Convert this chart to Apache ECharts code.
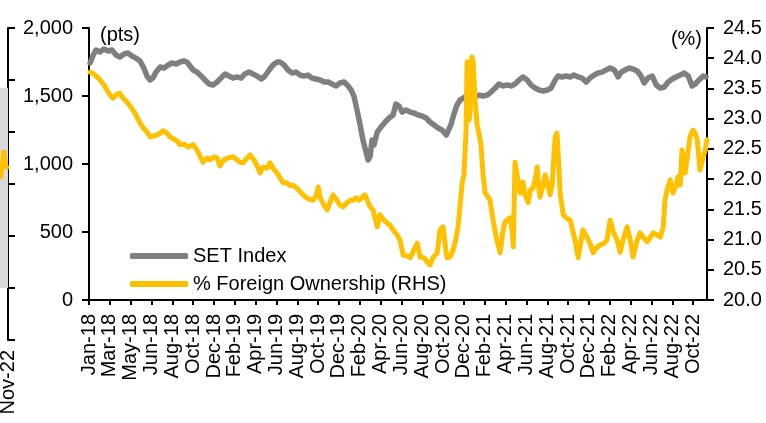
<!DOCTYPE html>
<html>
<head>
    <meta charset="utf-8">
    <title>SET Index vs Foreign Ownership</title>
    <script src="https://cdn.jsdelivr.net/npm/echarts@6/dist/echarts.min.js"></script>
    <style>
        html, body { margin: 0; padding: 0; background: #fff; }
    </style>
</head>
<body>
    <div id="main" style="width: 766px;height:423px;"></div>
    <script type="text/javascript">
        // x values are days counted from 1 Jan 2018
        var xTickLabels = ['Jan-18', 'Mar-18', 'May-18', 'Jun-18', 'Aug-18', 'Oct-18', 'Dec-18', 'Feb-19', 'Apr-19', 'Jun-19',
            'Aug-19', 'Oct-19', 'Dec-19', 'Feb-20', 'Apr-20', 'Jun-20', 'Aug-20', 'Oct-20', 'Dec-20', 'Feb-21',
            'Apr-21', 'Jun-21', 'Aug-21', 'Oct-21', 'Dec-21', 'Feb-22', 'Apr-22', 'Jun-22', 'Aug-22', 'Oct-22'];
        var leftTicks = [0, 500, 1000, 1500, 2000];
        var rightTicks = [20.0, 20.5, 21.0, 21.5, 22.0, 22.5, 23.0, 23.5, 24.0, 24.5];

        // SET Index (pts)
        var setIndex = [
            [3, 1743], [12, 1801], [20, 1838], [32, 1824], [43, 1846], [55, 1831], [66, 1838], [78, 1801], [89, 1787], [101, 1809],
            [112, 1816], [124, 1794], [135, 1779], [147, 1757], [158, 1706], [167, 1647], [176, 1618], [184, 1632], [193, 1676], [205, 1713],
            [216, 1706], [228, 1728], [239, 1743], [251, 1735], [262, 1750], [274, 1757], [282, 1750], [291, 1721], [300, 1691], [311, 1676],
            [323, 1647], [334, 1618], [346, 1588], [357, 1581], [369, 1603], [380, 1632], [392, 1662], [403, 1647], [415, 1632], [426, 1640],
            [438, 1632], [449, 1662], [461, 1676], [472, 1662], [484, 1647], [496, 1625], [507, 1647], [519, 1691], [530, 1728], [542, 1750],
            [550, 1750], [562, 1728], [573, 1691], [585, 1669], [596, 1676], [608, 1654], [619, 1647], [631, 1654], [642, 1632], [654, 1625],
            [666, 1618], [677, 1603], [689, 1603], [700, 1588], [712, 1574], [723, 1596], [735, 1603], [746, 1574], [755, 1544], [763, 1500],
            [772, 1397], [781, 1287], [789, 1176], [798, 1088], [804, 1029], [810, 1059], [815, 1176], [821, 1140], [830, 1235], [841, 1272],
            [853, 1309], [864, 1338], [876, 1360], [884, 1441], [893, 1426], [902, 1382], [913, 1397], [925, 1382], [936, 1375], [948, 1360],
            [959, 1353], [971, 1338], [982, 1309], [994, 1287], [1005, 1265], [1017, 1250], [1029, 1213], [1034, 1199], [1043, 1294], [1052, 1375],
            [1060, 1434], [1069, 1471], [1078, 1485], [1089, 1500], [1101, 1478], [1112, 1493], [1124, 1507], [1135, 1500], [1147, 1507], [1158, 1529],
            [1170, 1559], [1181, 1588], [1193, 1574], [1204, 1581], [1216, 1574], [1227, 1588], [1239, 1618], [1250, 1640], [1262, 1618], [1273, 1581],
            [1285, 1559], [1296, 1544], [1308, 1537], [1320, 1544], [1331, 1559], [1343, 1618], [1351, 1647], [1363, 1640], [1374, 1647], [1386, 1640],
            [1397, 1654], [1409, 1640], [1420, 1632], [1432, 1603], [1443, 1632], [1455, 1654], [1466, 1669], [1478, 1676], [1489, 1691], [1501, 1706],
            [1513, 1691], [1524, 1640], [1533, 1676], [1544, 1691], [1556, 1706], [1567, 1698], [1579, 1684], [1590, 1647], [1599, 1596], [1610, 1632],
            [1622, 1647], [1634, 1581], [1645, 1559], [1657, 1566], [1668, 1603], [1680, 1625], [1691, 1640], [1703, 1654], [1714, 1669], [1726, 1647],
            [1737, 1574], [1746, 1588], [1757, 1618], [1769, 1647], [1777, 1640]
        ];

        // % Foreign Ownership (RHS)
        var foreignOwnership = [
            [3, 23.77], [14, 23.74], [23, 23.69], [32, 23.64], [43, 23.56], [52, 23.47], [61, 23.39], [69, 23.34], [81, 23.41], [89, 23.42],
            [98, 23.34], [109, 23.28], [118, 23.21], [127, 23.14], [138, 23.03], [147, 22.93], [156, 22.85], [167, 22.78], [176, 22.70], [184, 22.71],
            [196, 22.73], [205, 22.76], [213, 22.80], [225, 22.76], [233, 22.70], [245, 22.66], [254, 22.63], [262, 22.57], [274, 22.58], [285, 22.53],
            [300, 22.57], [311, 22.48], [320, 22.38], [328, 22.28], [340, 22.35], [349, 22.32], [360, 22.37], [369, 22.35], [377, 22.22], [389, 22.32],
            [400, 22.35], [415, 22.37], [426, 22.32], [435, 22.28], [444, 22.27], [455, 22.35], [464, 22.40], [475, 22.32], [484, 22.22], [493, 22.10],
            [501, 22.20], [513, 22.18], [521, 22.27], [530, 22.18], [542, 22.10], [550, 22.02], [559, 21.94], [570, 21.94], [579, 21.89], [588, 21.90],
            [599, 21.85], [608, 21.79], [617, 21.74], [625, 21.70], [634, 21.67], [645, 21.65], [654, 21.72], [660, 21.87], [666, 21.69], [677, 21.57],
            [686, 21.49], [694, 21.61], [703, 21.74], [714, 21.65], [723, 21.57], [732, 21.54], [743, 21.61], [752, 21.65], [761, 21.65], [769, 21.69],
            [778, 21.65], [787, 21.70], [795, 21.74], [804, 21.61], [810, 21.54], [818, 21.49], [824, 21.36], [830, 21.21], [838, 21.41], [850, 21.32],
            [859, 21.27], [867, 21.24], [876, 21.16], [887, 21.08], [896, 20.99], [905, 20.74], [916, 20.73], [925, 20.70], [933, 20.79], [945, 20.94],
            [954, 20.71], [965, 20.70], [974, 20.63], [982, 20.58], [991, 20.70], [1003, 20.78], [1011, 21.16], [1020, 21.21], [1026, 20.91], [1031, 20.70],
            [1040, 20.71], [1049, 20.83], [1054, 20.94], [1063, 21.21], [1069, 21.57], [1075, 21.94], [1080, 22.07], [1086, 22.81], [1089, 23.94], [1092, 23.81],
            [1095, 22.98], [1098, 23.14], [1103, 24.02], [1106, 23.97], [1112, 23.31], [1118, 22.90], [1124, 22.73], [1129, 22.57], [1135, 22.07], [1141, 21.77],
            [1150, 21.70], [1155, 21.65], [1164, 21.32], [1170, 21.13], [1175, 20.99], [1184, 20.78], [1193, 21.16], [1198, 21.29], [1204, 21.32], [1213, 21.36],
            [1219, 21.13], [1222, 20.88], [1227, 22.28], [1233, 22.07], [1242, 21.77], [1250, 21.95], [1256, 21.74], [1265, 21.61], [1271, 21.82], [1279, 21.85],
            [1285, 21.99], [1291, 22.20], [1296, 21.82], [1299, 21.70], [1308, 21.90], [1314, 22.07], [1322, 21.90], [1328, 21.74], [1334, 21.90], [1340, 22.48],
            [1343, 22.70], [1348, 22.76], [1354, 22.15], [1357, 21.77], [1366, 21.41], [1374, 21.36], [1386, 21.32], [1394, 21.13], [1400, 20.99], [1409, 20.70],
            [1415, 20.91], [1423, 21.16], [1435, 21.03], [1443, 20.94], [1452, 20.78], [1461, 20.86], [1472, 20.91], [1484, 20.94], [1492, 20.99], [1501, 21.32],
            [1510, 21.13], [1521, 20.99], [1530, 20.79], [1538, 20.99], [1550, 21.21], [1559, 20.99], [1567, 20.71], [1579, 20.99], [1587, 21.11], [1596, 21.04],
            [1608, 20.96], [1616, 21.03], [1625, 21.11], [1636, 21.08], [1645, 21.04], [1654, 21.21], [1659, 21.65], [1665, 21.82], [1674, 21.99], [1682, 21.77],
            [1691, 21.90], [1697, 22.04], [1703, 21.90], [1708, 22.48], [1717, 22.10], [1726, 22.48], [1731, 22.70], [1740, 22.81], [1746, 22.76], [1752, 22.65],
            [1760, 22.15], [1769, 22.37], [1775, 22.48], [1780, 22.65]
        ];

        // the sliver of the neighbouring chart visible at the left edge
        var sideCategories = ['', '', '', '', 'Nov-22'];
        var sideShade = [3.85, 3.85, 3.85, 3.85, 3.85];
        var sideLine = [2.1, 2.3, 2.65, 2.3, 2.36];

        var FONT = 'Liberation Sans, Arial, sans-serif';
        var myChart = echarts.init(document.getElementById('main'));

        var axisBlack = { show: true, lineStyle: { color: '#000', width: 2 } };

        myChart.setOption({
            animation: false,
            backgroundColor: '#fff',
            textStyle: { fontFamily: FONT, color: '#000' },
            grid: [
                { left: 89, right: 59, top: 28, bottom: 123 },
                { left: -8, width: 16, top: 28, height: 312 }
            ],
            legend: {
                orient: 'vertical',
                left: 125,
                top: 241,
                itemWidth: 58,
                itemHeight: 6,
                itemGap: 8,
                icon: 'roundRect',
                textStyle: { fontSize: 20, color: '#000', fontFamily: FONT },
                data: ['SET Index', '% Foreign Ownership (RHS)']
            },
            graphic: [
                { type: 'text', left: 100, top: 25, style: { text: '(pts)', font: '20px ' + FONT, fill: '#000' } },
                { type: 'text', right: 64, top: 29, style: { text: '(%)', font: '20px ' + FONT, fill: '#000' } }
            ],
            xAxis: [{
                    type: 'value',
                    gridIndex: 0,
                    min: 0,
                    max: 1780,
                    interval: 60,
                    axisLine: axisBlack,
                    axisTick: { show: true, length: 5, lineStyle: { color: '#000', width: 2 } },
                    axisLabel: {
                        rotate: 90,
                        margin: 14,
                        fontSize: 20,
                        color: '#000',
                        showMaxLabel: false,
                        formatter: function (v) {
                            return v % 60 === 0 ? (xTickLabels[v / 60] || '') : '';
                        }
                    },
                    splitLine: { show: false }
                },
                {
                    type: 'category',
                    gridIndex: 1,
                    boundaryGap: false,
                    data: sideCategories,
                    axisLine: { show: false },
                    axisTick: { show: false },
                    axisLabel: {
                        rotate: 90,
                        margin: 10,
                        fontSize: 20,
                        color: '#000',
                        interval: 0
                    }
                }
            ],
            yAxis: [{
                    type: 'value',
                    gridIndex: 0,
                    min: leftTicks[0],
                    max: leftTicks[leftTicks.length - 1],
                    interval: 500,
                    axisLine: axisBlack,
                    axisTick: { show: true, length: 7, lineStyle: { color: '#000', width: 2 } },
                    axisLabel: {
                        margin: 16,
                        fontSize: 20,
                        color: '#000',
                        formatter: function (v) { return v.toLocaleString('en-US'); }
                    },
                    splitLine: { show: false }
                },
                {
                    type: 'value',
                    gridIndex: 0,
                    position: 'right',
                    min: rightTicks[0],
                    max: rightTicks[rightTicks.length - 1],
                    interval: 0.5,
                    axisLine: axisBlack,
                    axisTick: { show: true, length: 7, lineStyle: { color: '#000', width: 2 } },
                    axisLabel: {
                        margin: 16,
                        fontSize: 20,
                        color: '#000',
                        formatter: function (v) { return v.toFixed(1); }
                    },
                    splitLine: { show: false }
                },
                {
                    type: 'value',
                    gridIndex: 1,
                    position: 'right',
                    min: -1,
                    max: 5,
                    interval: 1,
                    axisLine: axisBlack,
                    axisTick: { show: true, length: 7, lineStyle: { color: '#000', width: 2 } },
                    axisLabel: { show: false },
                    splitLine: { show: false }
                }
            ],
            series: [{
                    name: 'SET Index',
                    type: 'line',
                    xAxisIndex: 0,
                    yAxisIndex: 0,
                    data: setIndex,
                    symbol: 'none',
                    color: '#7f7f7f',
                    lineStyle: { width: 5.5, color: '#7f7f7f', join: 'round', cap: 'round' }
                },
                {
                    name: '% Foreign Ownership (RHS)',
                    type: 'line',
                    xAxisIndex: 0,
                    yAxisIndex: 1,
                    data: foreignOwnership,
                    symbol: 'none',
                    color: '#ffc000',
                    lineStyle: { width: 5, color: '#ffc000', join: 'round', cap: 'round' }
                },
                {
                    name: 'side shade',
                    type: 'line',
                    xAxisIndex: 1,
                    yAxisIndex: 2,
                    data: sideShade,
                    symbol: 'none',
                    lineStyle: { width: 0, color: '#d9d9d9' },
                    areaStyle: { color: '#d9d9d9', origin: 0, opacity: 1 }
                },
                {
                    name: 'side line',
                    type: 'line',
                    xAxisIndex: 1,
                    yAxisIndex: 2,
                    data: sideLine,
                    symbol: 'none',
                    lineStyle: { width: 5, color: '#ffc000' }
                }
            ]
        });
    </script>
</body>
</html>
